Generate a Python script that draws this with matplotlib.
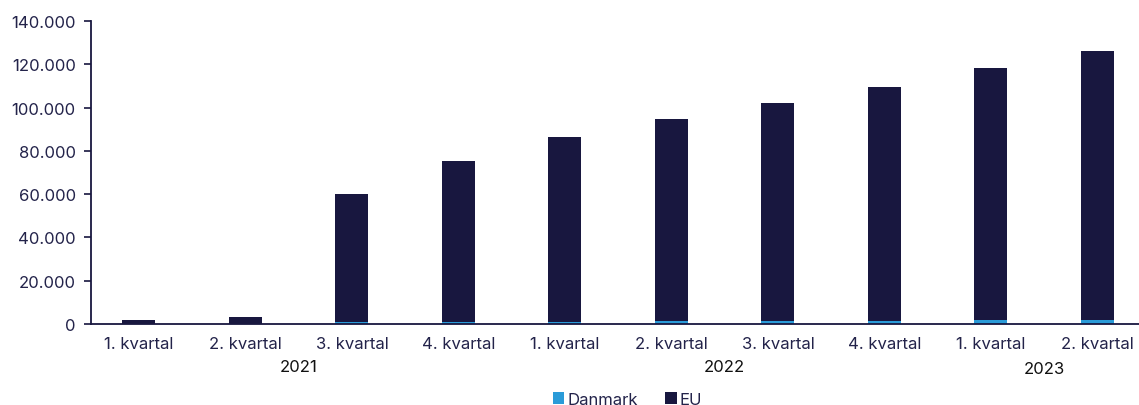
import matplotlib.pyplot as plt
from matplotlib.ticker import FuncFormatter

quarters = ["1. kvartal", "2. kvartal", "3. kvartal", "4. kvartal",
            "1. kvartal", "2. kvartal", "3. kvartal", "4. kvartal",
            "1. kvartal", "2. kvartal"]
years = ["2021", "2022", "2023"]
year_groups = [(0, 3), (4, 7), (8, 9)]
danmark = [100, 200, 800, 900, 1000, 1200, 1400, 1500, 1800, 1900]
eu_total = [2000, 3200, 60000, 75300, 86400, 94700, 102100, 109500, 118300, 126100]
eu = [t - d for t, d in zip(eu_total, danmark)]

navy = "#18173f"
blue = "#2a9bd8"
text_col = "#23234a"

plt.rcParams['font.family'] = ['Inter', 'DejaVu Sans']

fig = plt.figure(figsize=(11.39, 4.06), dpi=100)
ax = fig.add_axes([91 / 1139, 1 - 325 / 406, 1 - 91 / 1139, (325 - 22) / 406])

x = list(range(len(quarters)))
ax.bar(x, danmark, width=0.31, color=blue, label="Danmark")
ax.bar(x, eu, width=0.31, bottom=danmark, color=navy, label="EU")

ax.set_ylim(0, 140000)
ax.set_xlim(-0.45, 9.39)
ax.set_yticks(range(0, 140001, 20000))
ax.yaxis.set_major_formatter(FuncFormatter(lambda v, p: f"{int(v):,}".replace(",", ".")))
ax.tick_params(axis="y", labelsize=12, colors=navy, labelcolor=text_col, length=5, width=1.2, pad=6)
ax.set_xticks(x)
ax.set_xticklabels(quarters)
ax.tick_params(axis="x", length=0, labelsize=12, labelcolor=text_col, pad=9)

for s in ["top", "right"]:
    ax.spines[s].set_visible(False)
for s in ["left", "bottom"]:
    ax.spines[s].set_color(navy)
    ax.spines[s].set_linewidth(1.3)

for yr, (a, b) in zip(years, year_groups):
    ypos = -0.147 if yr == "2023" else -0.14
    ax.text((a + b) / 2, ypos, yr, transform=ax.get_xaxis_transform(),
            ha="center", va="center", fontsize=12, color="#111111")

fig.legend(loc="lower center", bbox_to_anchor=(0.551, -0.042), ncol=2, frameon=False,
           fontsize=12, handlelength=0.7, handleheight=0.7, handletextpad=0.2,
           columnspacing=1.6, labelcolor=text_col)

fig.savefig("out.png", dpi=100)
